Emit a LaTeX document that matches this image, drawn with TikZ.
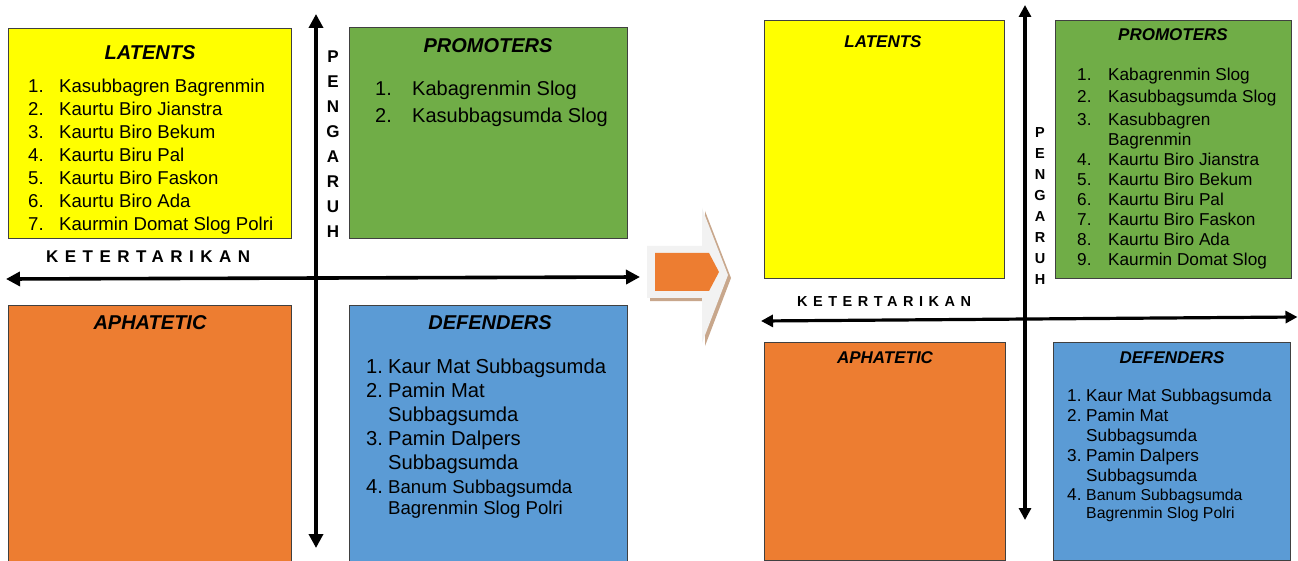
\documentclass[tikz,border=0pt]{standalone}
\usepackage{fontspec}
\setmainfont{Liberation Sans}
\usetikzlibrary{arrows.meta}
\definecolor{cyel}{HTML}{FFFF00}
\definecolor{cgrn}{HTML}{70AD47}
\definecolor{corg}{HTML}{ED7D31}
\definecolor{cblu}{HTML}{5B9BD5}
\definecolor{cbrd}{HTML}{404040}
\definecolor{cgry}{HTML}{F2F2F2}
\definecolor{ctan}{HTML}{C8A78C}
\newcommand\fs[1]{\fontsize{#1}{#1}\selectfont}
\newcommand\numbox[3]{\makebox[#1][l]{#2}#3}
\begin{document}
\begin{tikzpicture}[x=1pt,y=-1pt,
  quad/.style={draw=cbrd,line width=0.9pt,inner sep=0pt,outer sep=0pt,anchor=north west},
  ttlL/.style={font=\fs{20}\bfseries\itshape,inner sep=0pt},
  ttlR/.style={font=\fs{17}\bfseries\itshape,inner sep=0pt},
  itm/.style={anchor=base west,inner sep=0pt},
  axisL/.style={line width=3.6pt,{Triangle[length=14pt,width=14pt]}-{Triangle[length=14pt,width=14pt]}},
  axisR/.style={line width=3.2pt,{Triangle[length=12pt,width=12pt]}-{Triangle[length=12pt,width=12pt]}},
  vlet/.style={inner sep=0pt}
]
\useasboundingbox (0,0) rectangle (1298,561);
\fill[white] (0,0) rectangle (1298,561);

% ================= LEFT HALF =================
\node[quad,fill=cyel,minimum width=283pt,minimum height=210pt] (latL) at (8,28) {};
\node[quad,fill=cgrn,minimum width=278pt,minimum height=211pt] (proL) at (349,27) {};
\node[quad,fill=corg,minimum width=283pt,minimum height=260pt] (aphL) at (8,305) {};
\node[quad,fill=cblu,minimum width=278pt,minimum height=260pt] (defL) at (349,305) {};

\node[ttlL] (latLt) at (150,53) {LATENTS};
\node[ttlL] (proLt) at (488,46) {PROMOTERS};
\node[ttlL] (aphLt) at (150,323) {APHATETIC};
\node[ttlL] (defLt) at (490,323) {DEFENDERS};

\begin{scope}
\clip (8,28) rectangle (291,237.6);
\foreach \t [count=\i] in {Kasubbagren Bagrenmin,Kaurtu Biro Jianstra,Kaurtu Biro Bekum,Kaurtu Biru Pal,Kaurtu Biro Faskon,Kaurtu Biro Ada,Kaurmin Domat Slog Polri}
  \node[itm,font=\fs{18.6}] (laL\i) at (28,{93+(\i-1)*23}) {\numbox{31pt}{\i.}{\t}};
\end{scope}

\node[itm,font=\fs{20}] (prL1) at (375,96) {\numbox{37pt}{1.}{Kabagrenmin Slog}};
\node[itm,font=\fs{20}] (prL2) at (375,123) {\numbox{37pt}{2.}{Kasubbagsumda Slog}};

\node[itm,font=\fs{20.2}] (deL1) at (366,373) {\numbox{22pt}{1.}{Kaur Mat Subbagsumda}};
\node[itm,font=\fs{20.2}] (deL2) at (366,397) {\numbox{22pt}{2.}{Pamin Mat}};
\node[itm,font=\fs{20.2}] (deL3) at (366,421) {\numbox{22pt}{}{Subbagsumda}};
\node[itm,font=\fs{20.2}] (deL4) at (366,445) {\numbox{22pt}{3.}{Pamin Dalpers}};
\node[itm,font=\fs{20.2}] (deL5) at (366,469) {\numbox{22pt}{}{Subbagsumda}};
\node[itm,font=\fs{20.2}] (deL6) at (366,493) {\numbox{22pt}{4.}{\fs{18.6}Banum Subbagsumda}};
\node[itm,font=\fs{18.6}] (deL7) at (388,514) {Bagrenmin Slog Polri};

\coordinate (hLa) at (6,279);
\coordinate (hLb) at (640,277);
\coordinate (vLa) at (316,14);
\coordinate (vLb) at (316,548);
\draw[axisL] (hLa) -- (hLb);
\draw[axisL] (vLa) -- (vLb);

\foreach \l [count=\i] in {P,E,N,G,A,R,U,H}
  \node[vlet,font=\fs{17}\bfseries] (pgL\i) at (333,{57+(\i-1)*25}) {\l};
\node[inner sep=0pt,anchor=west,font=\fs{17}\bfseries\addfontfeature{LetterSpace=38}] (ktL) at (46,257) {KETERTARIKAN};

% ================= MIDDLE ARROW =================
\begin{scope}[shift={(3,3)}]
\fill[ctan] (647,246) -- (702,246) -- (702,208) -- (728,275) -- (702,343) -- (702,298) -- (647,298) -- cycle;
\end{scope}
\fill[cgry] (647,246) -- (702,246) -- (702,208) -- (728,275) -- (702,343) -- (702,298) -- (647,298) -- cycle;
\fill[corg] (655,253) -- (709,253) -- (719,272) -- (709,291) -- (655,291) -- cycle;

% ================= RIGHT HALF =================
\node[quad,fill=cyel,minimum width=240pt,minimum height=258pt] (latR) at (764,20) {};
\node[quad,fill=cgrn,minimum width=236pt,minimum height=258pt] (proR) at (1055,20) {};
\node[quad,fill=corg,minimum width=241pt,minimum height=218pt] (aphR) at (764,342) {};
\node[quad,fill=cblu,minimum width=237pt,minimum height=218pt] (defR) at (1053,342) {};

\node[ttlR] (latRt) at (883,42) {LATENTS};
\node[ttlR] (proRt) at (1173,35) {PROMOTERS};
\node[ttlR] (aphRt) at (885,358) {APHATETIC};
\node[ttlR] (defRt) at (1172,358) {DEFENDERS};

\node[itm,font=\fs{17.2}] (prR1) at (1077,81) {\numbox{31pt}{1.}{Kabagrenmin Slog}};
\node[itm,font=\fs{17.2}] (prR2) at (1077,103) {\numbox{31pt}{2.}{Kasubbagsumda Slog}};
\node[itm,font=\fs{17.2}] (prR3) at (1077,126) {\numbox{31pt}{3.}{Kasubbagren}};
\node[itm,font=\fs{17.2}] (prR3b) at (1108,146) {Bagrenmin};
\foreach \t [count=\i from 4] in {Kaurtu Biro Jianstra,Kaurtu Biro Bekum,Kaurtu Biru Pal,Kaurtu Biro Faskon,Kaurtu Biro Ada,Kaurmin Domat Slog}
  \node[itm,font=\fs{17.2}] (prR\i) at (1077,{166+(\i-4)*20}) {\numbox{31pt}{\i.}{\t}};

\node[itm,font=\fs{17.2}] (deR1) at (1067,401) {\numbox{19pt}{1.}{Kaur Mat Subbagsumda}};
\node[itm,font=\fs{17.2}] (deR2) at (1067,421) {\numbox{19pt}{2.}{Pamin Mat}};
\node[itm,font=\fs{17.2}] (deR3) at (1067,441) {\numbox{19pt}{}{Subbagsumda}};
\node[itm,font=\fs{17.2}] (deR4) at (1067,461) {\numbox{19pt}{3.}{Pamin Dalpers}};
\node[itm,font=\fs{17.2}] (deR5) at (1067,481) {\numbox{19pt}{}{Subbagsumda}};
\node[itm,font=\fs{17.2}] (deR6) at (1067,500) {\numbox{19pt}{4.}{\fs{15.8}Banum Subbagsumda}};
\node[itm,font=\fs{15.8}] (deR7) at (1086,518) {Bagrenmin Slog Polri};

\coordinate (hRa) at (761,321);
\coordinate (hRb) at (1297.5,317);
\coordinate (vRa) at (1025,5);
\coordinate (vRb) at (1025,520);
\draw[axisR] (hRa) -- (hRb);
\draw[axisR] (vRa) -- (vRb);

\foreach \l [count=\i] in {P,E,N,G,A,R,U,H}
  \node[vlet,font=\fs{14.5}\bfseries] (pgR\i) at (1040,{133+(\i-1)*21}) {\l};
\node[inner sep=0pt,anchor=west,font=\fs{14.5}\bfseries\addfontfeature{LetterSpace=38}] (ktR) at (797,302) {KETERTARIKAN};
\end{tikzpicture}
\end{document}
